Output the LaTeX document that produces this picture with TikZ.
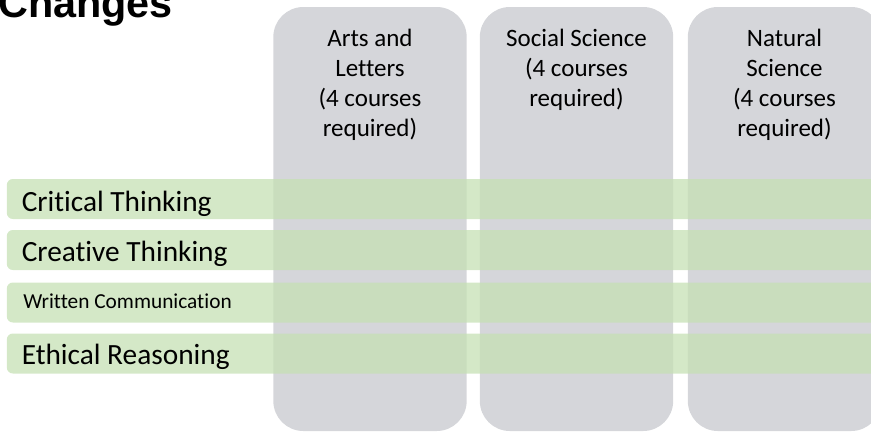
\documentclass[tikz,border=0pt]{standalone}
\usepackage{fontspec}
\setmainfont{Carlito}[Ligatures={NoCommon}]
\newfontfamily\titlefont{Liberation Sans}
\definecolor{colgray}{HTML}{D5D6DA}
\definecolor{bandgreen}{HTML}{C5E0B4}
\begin{document}
\begin{tikzpicture}[x=0.75pt,y=-0.75pt,
  colbox/.style={fill=colgray, draw=none, rounded corners=22.5pt, inner sep=0pt,
    minimum width=145pt, minimum height=318pt},
  band/.style={fill=bandgreen, fill opacity=0.75, draw=none, rounded corners=4.5pt,
    inner sep=0pt, minimum width=670pt, minimum height=30pt},
  collabel/.style={inner sep=0pt, align=center, anchor=north,
    font=\fontsize{18.75pt}{22.5pt}\selectfont},
  bandlabel/.style={inner sep=0pt, anchor=base west, font=\fontsize{22pt}{26pt}\selectfont},
  smalllabel/.style={inner sep=0pt, anchor=base west, font=\fontsize{16pt}{19pt}\selectfont}]
\clip (0,0) rectangle (871,432);
\useasboundingbox (0,0) rectangle (871,432);
% title
\node[inner sep=0pt, anchor=base west, font=\titlefont\bfseries\fontsize{31pt}{36pt}\selectfont] (title) at (-2,17) {Changes};
% columns
\node[colbox] (c1) at (370,219) {};
\node[colbox] (c2) at (576.5,219) {};
\node[colbox] (c3) at (784.5,219) {};
\node[collabel] (l1) at ([yshift=-16.9pt]c1.north) {Arts and\\Letters\\(4 courses\\required)};
\node[collabel] (l2) at ([yshift=-16.9pt]c2.north) {Social Science\\(4 courses\\required)};
\node[collabel] (l3) at ([yshift=-16.9pt]c3.north) {Natural\\Science\\(4 courses\\required)};
% bands
\node[band] (b1) at (453.5,199) {};
\node[band] (b2) at (453.5,250) {};
\node[band] (b3) at (453.5,302.5) {};
\node[band] (b4) at (453.5,353.5) {};
\node[bandlabel] (t1) at (21.5,211) {Critical Thinking};
\node[bandlabel] (t2) at (21.5,261) {Creative Thinking};
\node[smalllabel] (t3) at (23,308) {Written Communication};
\node[bandlabel] (t4) at (21.5,364) {Ethical Reasoning};
\end{tikzpicture}
\end{document}
